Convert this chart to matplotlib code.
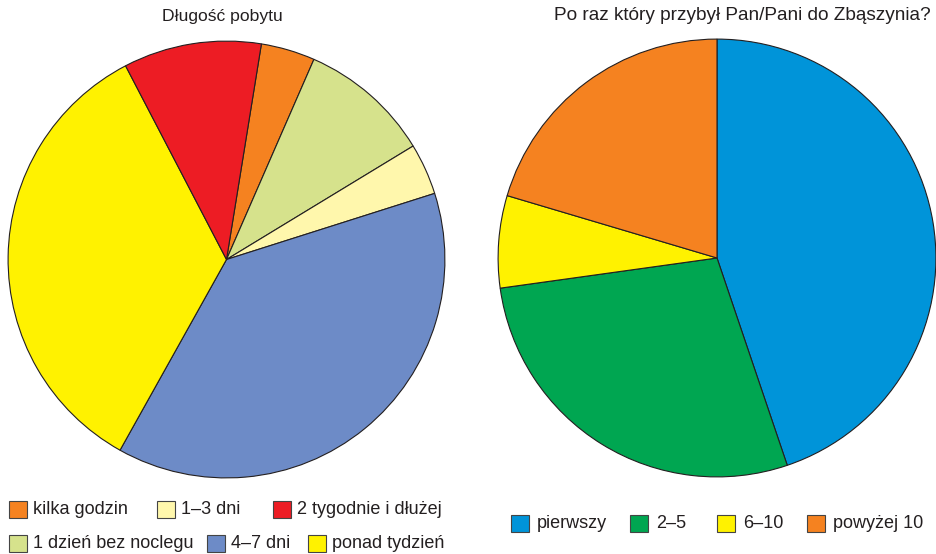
import matplotlib
matplotlib.use("Agg")
import matplotlib.pyplot as plt
from matplotlib.patches import Rectangle

plt.rcParams['font.family'] = ['Liberation Sans', 'DejaVu Sans']

# ---- data ----
stay_title = "Długość pobytu"
stay_labels = ["kilka godzin", "1 dzień bez noclegu", "1–3 dni", "4–7 dni",
               "ponad tydzień", "2 tygodnie i dłużej"]
stay_values = [4.0, 9.75, 3.8, 38.0, 34.25, 10.2]
stay_colors = ["#F58220", "#D6E28C", "#FFF7AC", "#6D8BC7", "#FFF200", "#ED1C24"]

visit_title = "Po raz który przybył Pan/Pani do Zbąszynia?"
visit_labels = ["pierwszy", "2–5", "6–10", "powyżej 10"]
visit_values = [44.8, 28.0, 6.8, 20.4]
visit_colors = ["#0094D9", "#00A651", "#FFF200", "#F58220"]

W, H = 937, 554
fig = plt.figure(figsize=(W / 100, H / 100), dpi=100)

def px_axes(cx, cy, r):
    return fig.add_axes([(cx - r) / W, (H - cy - r) / H, 2 * r / W, 2 * r / H])

wedge_style = dict(edgecolor="#231F20", linewidth=0.8)

ax1 = px_axes(226.5, 259.5, 219.5)
ax1.pie(stay_values, colors=stay_colors, startangle=90 - 9.2, counterclock=False,
        wedgeprops=wedge_style, radius=1)
ax1.set_xlim(-1.005, 1.005); ax1.set_ylim(-1.005, 1.005)
ax1.axis("off")

ax2 = px_axes(717, 258, 220)
ax2.pie(visit_values, colors=visit_colors, startangle=90, counterclock=False,
        wedgeprops=wedge_style, radius=1)
ax2.set_xlim(-1.005, 1.005); ax2.set_ylim(-1.005, 1.005)
ax2.axis("off")

fs = 13
fig.text(222 / W, 1 - 16 / H, stay_title, ha="center", va="center", fontsize=12.6, color="#231F20")
fig.text(742 / W, 1 - 16 / H, visit_title, ha="center", va="center", fontsize=13.7, color="#231F20")

def legend_item(x, y, color, label, gap=6):
    fig.patches.append(Rectangle((x / W, 1 - (y + 8.5) / H), 18 / W, 17 / H,
                                 transform=fig.transFigure, facecolor=color,
                                 edgecolor="#444444", linewidth=0.8))
    fig.text((x + 18 + gap) / W, 1 - y / H, label, ha="left", va="center",
             fontsize=fs, color="#231F20")

# left legend layout (label index, x, y)
left_layout = [(0, 9, 509), (2, 157, 509), (5, 273, 509),
               (1, 9, 543), (3, 207, 543), (4, 308, 543)]
for i, x, y in left_layout:
    legend_item(x, y, stay_colors[i], stay_labels[i])

right_x = [511, 630, 717, 807]
for i, x in enumerate(right_x):
    legend_item(x, 523, visit_colors[i], visit_labels[i], gap=8)

fig.savefig("out.png", dpi=100, facecolor="white")
